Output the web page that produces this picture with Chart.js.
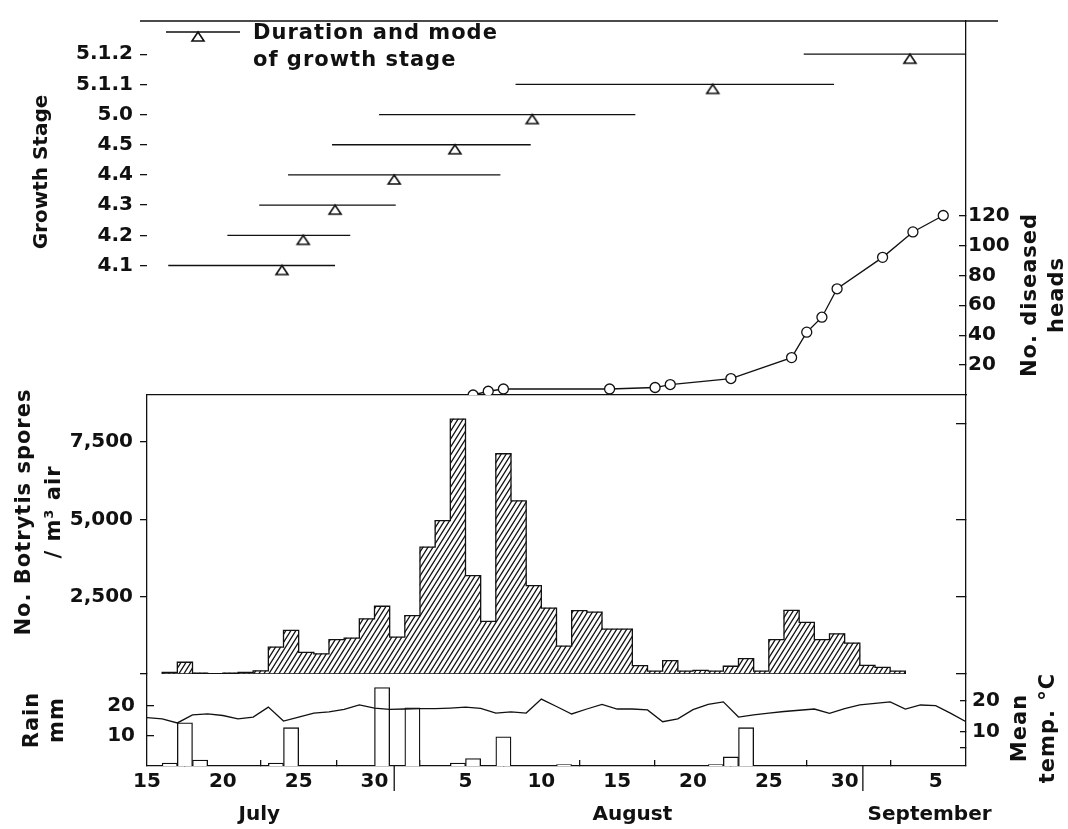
<!DOCTYPE html>
<html>
<head>
<meta charset="utf-8">
<script src="https://cdn.jsdelivr.net/npm/chart.js@4.4.1/dist/chart.umd.min.js"></script>
<style>
  html, body { margin: 0; padding: 0; background: #fff; }
  #wrap { position: relative; width: 1068px; height: 829px; }
  #wrap canvas { position: absolute; left: 0; top: 0; }
</style>
</head>
<body>
<div id="wrap">
  <canvas id="cTop" width="1068" height="829"></canvas>
  <canvas id="cMid" width="1068" height="829"></canvas>
  <canvas id="cBot" width="1068" height="829"></canvas>
</div>
<script>
// day 0 = 15 July, day 17 = 1 August, day 48 = 1 September
const stageLabels = ['4.1', '4.2', '4.3', '4.4', '4.5', '5.0', '5.1.1', '5.1.2'];
const stageStart  = [1.4, 5.3, 7.4, 9.3, 12.2, 15.3, 24.3, 43.3];
const stageEnd    = [12.4, 13.4, 16.4, 23.3, 25.3, 32.2, 45.3, 54];
const stageMode   = [8.9, 10.3, 12.4, 16.3, 20.3, 25.4, 37.3, 50.3];

const headDays   = [21, 22, 23, 30, 33, 34, 38, 42, 43, 44, 45, 48, 50, 52];
const headCounts = [0, 2.5, 4, 4, 5, 7, 11, 25, 42, 52, 71, 92, 109, 120];
const headTicks  = [20, 40, 60, 80, 100, 120];

const sporeDays = [1, 2, 3, 4, 5, 6, 7, 8, 9, 10, 11, 12, 13, 14, 15, 16, 17, 18, 19, 20,
  21, 22, 23, 24, 25, 26, 27, 28, 29, 30, 31, 32, 33, 34, 35, 36, 37, 38, 39, 40,
  41, 42, 43, 44, 45, 46, 47, 48, 49];
const sporeCounts = [50, 380, 30, 10, 30, 50, 100, 870, 1410, 700, 650, 1110, 1160, 1780, 2190, 1190, 1890, 4100, 4960, 8240,
  3180, 1700, 7120, 5600, 2860, 2130, 900, 2050, 2000, 1450, 1450, 270, 90, 430, 90, 120, 90, 250, 500, 90,
  1110, 2060, 1670, 1110, 1300, 1000, 280, 215, 90];
const sporeTicks = [0, 2500, 5000, 7500];
const sporeTickLabels = ['', '2,500', '5,000', '7,500'];
const sporeTicksRight = [0, 2500, 5000, 8100];

const rainDays = [1, 2, 3, 8, 9, 15, 17, 20, 21, 23, 27, 37, 38, 39];
const rainMm   = [1, 14.3, 2, 1, 12.7, 26, 19.3, 1, 2.5, 9.7, 0.5, 0.5, 3, 12.7];
const rainTicks = [10, 20];

const tempDays = [0, 1, 2, 3, 4, 5, 6, 7, 8, 9, 10, 11, 12, 13, 14, 15, 16, 17, 18, 19, 20,
  21, 22, 23, 24, 25, 26, 27, 28, 29, 30, 31, 32, 33, 34, 35, 36, 37, 38, 39, 40,
  41, 42, 43, 44, 45, 46, 47, 48, 49, 50, 51, 52, 53, 54];
const tempC = [14.6, 14.2, 12.9, 15.5, 15.8, 15.3, 14.2, 14.8, 18.0, 13.5, 14.8, 16.1, 16.5, 17.3, 18.7, 17.7, 17.3, 17.4, 17.5, 17.5, 17.7,
  18.0, 17.6, 16.1, 16.5, 16.1, 20.6, 18.2, 15.8, 17.4, 18.9, 17.4, 17.4, 17.1, 13.3, 14.2, 17.2, 18.9, 19.7, 14.8, 15.5,
  16.1, 16.6, 17.0, 17.4, 16.0, 17.5, 18.7, 19.2, 19.7, 17.4, 18.7, 18.5, 16.0, 13.3];
const tempTicks = [5, 10, 20];
const tempTickLabels = ['', '10', '20'];

const dayTicks = [0, 5, 10, 15, 21, 26, 31, 36, 41, 46, 52];
const dayTickLabels = ['15', '20', '25', '30', '5', '10', '15', '20', '25', '30', '5'];
const monthPos = [7.4, 32, 51.6];
const monthNames = ['July', 'August', 'September'];
const monthBreaks = [16.3, 47.2];

const DARK = '#111';
const LEFT_W = 147, RIGHT_W = 102;
const FONT = "'DejaVu Sans', sans-serif";

Chart.defaults.font.family = FONT;
Chart.defaults.font.size = 20;
Chart.defaults.font.weight = 'bold';
Chart.defaults.color = DARK;
Chart.defaults.animation = false;
Chart.defaults.plugins.legend.display = false;
Chart.defaults.plugins.tooltip.enabled = false;

// open triangle, apex at the centre so it hangs under the line
function triMarker() {
    const c = document.createElement('canvas');
    c.width = 16; c.height = 24;
    const g = c.getContext('2d');
    g.beginPath();
    g.moveTo(8, 12); g.lineTo(14, 21); g.lineTo(2, 21); g.closePath();
    g.fillStyle = '#fff'; g.fill();
    g.lineWidth = 1.6; g.strokeStyle = DARK; g.stroke();
    return c;
}
const tri = triMarker();

function hatchPattern() {
    const c = document.createElement('canvas');
    c.width = 5; c.height = 8;
    const g = c.getContext('2d');
    g.fillStyle = '#fff'; g.fillRect(0, 0, 5, 8);
    g.strokeStyle = DARK; g.lineWidth = 1.25;
    g.beginPath();
    g.moveTo(0, 8); g.lineTo(5, 0);
    g.moveTo(-1, 1.6); g.lineTo(1, -1.6);
    g.moveTo(4, 9.6); g.lineTo(6, 6.4);
    g.stroke();
    return g.createPattern(c, 'repeat');
}

// histogram outline: left edge of each day, closed back along the base
const sporeOutline = [{ x: sporeDays[0], y: 0 }]
    .concat(sporeDays.map((d, i) => ({ x: d, y: sporeCounts[i] })))
    .concat([{ x: sporeDays[sporeDays.length - 1] + 1, y: 0 }, { x: sporeDays[0], y: 0 }]);

function yAxis(position, min, max, values, labels, tickLen, pad, showBorder) {
    return {
        position: position, min: min, max: max,
        afterBuildTicks: s => { s.ticks = values.map(v => ({ value: v })); },
        afterFit: s => { s.width = position === 'left' ? LEFT_W : RIGHT_W; },
        grid: { drawOnChartArea: false, color: DARK, lineWidth: 1.3, tickLength: tickLen },
        border: { display: showBorder, color: DARK, width: 1.3 },
        ticks: { padding: pad, autoSkip: false, callback: (v, i) => labels ? labels[i] : '' }
    };
}

function vText(ctx, lines, x, y, gap) {
    ctx.save();
    ctx.translate(x, y);
    ctx.rotate(-Math.PI / 2);
    ctx.textAlign = 'center';
    ctx.textBaseline = 'middle';
    lines.forEach((t, i) => ctx.fillText(t, 0, i * gap));
    ctx.restore();
}

function setText(ctx, size) {
    ctx.fillStyle = DARK;
    ctx.font = 'bold ' + size + 'px ' + FONT;
    ctx.letterSpacing = '1px';
}

// top panel: frame line, legend and titles
const topDecor = {
    id: 'topDecor',
    afterDraw(chart) {
        const ctx = chart.ctx, a = chart.chartArea;
        ctx.save();
        ctx.strokeStyle = DARK; ctx.lineWidth = 1.3;
        ctx.beginPath();
        ctx.moveTo(a.left - 7, a.top); ctx.lineTo(a.right + 32, a.top);
        ctx.moveTo(166, 32); ctx.lineTo(240, 32);
        ctx.stroke();
        ctx.drawImage(tri, 198 - 8, 32 - 12);
        setText(ctx, 21);
        ctx.textAlign = 'left'; ctx.textBaseline = 'middle';
        ctx.fillText('Duration and mode', 253, 34);
        ctx.fillText('of growth stage', 253, 61);
        setText(ctx, 20);
        ctx.letterSpacing = '0px';
        vText(ctx, ['Growth Stage'], 42, 172, 0);
        setText(ctx, 21);
        vText(ctx, ['No. diseased', 'heads'], 1031, 295, 27);
        ctx.restore();
    }
};

const midDecor = {
    id: 'midDecor',
    afterDraw(chart) {
        const ctx = chart.ctx;
        ctx.save();
        setText(ctx, 21);
        vText(ctx, ['No. Botrytis spores', '/ m\u00B3 air'], 25, 512, 30);
        ctx.restore();
    }
};

const botDecor = {
    id: 'botDecor',
    afterDraw(chart) {
        const ctx = chart.ctx, a = chart.chartArea, x = chart.scales.x;
        ctx.save();
        ctx.strokeStyle = DARK; ctx.lineWidth = 1.3;
        ctx.beginPath();
        monthBreaks.forEach(b => {
            const px = x.getPixelForValue(b);
            ctx.moveTo(px, a.bottom); ctx.lineTo(px, a.bottom + 25);
        });
        ctx.stroke();
        setText(ctx, 21);
        vText(ctx, ['Rain', 'mm'], 33, 720, 25);
        vText(ctx, ['Mean', 'temp. \u00B0C'], 1021, 728, 28);
        ctx.restore();
    }
};

// ---- top panel: growth stages and diseased heads
const stageSets = stageLabels.map((s, i) => ({
    data: [{ x: stageStart[i], y: i + 1 }, { x: stageEnd[i], y: i + 1 }],
    yAxisID: 'yStage', borderColor: DARK, borderWidth: 1.3, pointRadius: 0
}));

new Chart(document.getElementById('cTop'), {
    type: 'line',
    data: {
        datasets: stageSets.concat([{
            data: stageMode.map((m, i) => ({ x: m, y: i + 1 })),
            yAxisID: 'yStage', showLine: false, pointStyle: tri, pointRadius: 8
        }, {
            data: headDays.map((d, i) => ({ x: d + 0.5, y: headCounts[i] })),
            yAxisID: 'yHeads', borderColor: DARK, borderWidth: 1.3,
            pointRadius: 5, pointBackgroundColor: '#fff', pointBorderColor: DARK, pointBorderWidth: 1.3
        }])
    },
    options: {
        responsive: false,
        layout: { padding: { top: 11, bottom: 434, left: 0, right: 0 } },
        scales: {
            x: {
                type: 'linear', min: 0, max: 54, offset: false,
                ticks: { display: false },
                grid: { display: false, drawTicks: false },
                border: { display: true, color: DARK, width: 1.3 },
                afterFit: s => { s.height = 0; }
            },
            yStage: yAxis('left', -3.29, 9.1, stageLabels.map((s, i) => i + 1), stageLabels, 7, 7, false),
            yHeads: yAxis('right', 0, 250, headTicks, headTicks.map(String), -7, 9, true)
        }
    },
    plugins: [topDecor]
});

// ---- middle panel: spore counts (hatched bars + stepped outline)
new Chart(document.getElementById('cMid'), {
    type: 'bar',
    data: {
        datasets: [{
            type: 'line',
            data: sporeOutline,
            yAxisID: 'ySpores', stepped: 'before', borderColor: DARK, borderWidth: 1.3,
            pointRadius: 0, order: 0
        }, {
            data: sporeDays.map((d, i) => ({ x: d + 0.5, y: sporeCounts[i] })),
            yAxisID: 'ySpores',
            backgroundColor: hatchPattern(), borderWidth: 0,
            barPercentage: 1, categoryPercentage: 1, order: 1
        }]
    },
    options: {
        responsive: false,
        layout: { padding: { top: 395, bottom: 155, left: 0, right: 0 } },
        scales: {
            x: { type: 'linear', min: 0, max: 54, offset: false, display: false },
            ySpores: yAxis('left', 0, 9020, sporeTicks, sporeTickLabels, 7, 7, true),
            ySporesR: yAxis('right', 0, 9020, sporeTicksRight, null, -10, 4, true)
        }
    },
    plugins: [midDecor]
});

// ---- bottom panel: rain and mean temperature
new Chart(document.getElementById('cBot'), {
    type: 'bar',
    data: {
        datasets: [{
            type: 'line',
            data: tempDays.map((d, i) => ({ x: d, y: tempC[i] })),
            yAxisID: 'yTemp', borderColor: DARK, borderWidth: 1.3, pointRadius: 0, order: 0
        }, {
            data: rainDays.map((d, i) => ({ x: d + 0.5, y: rainMm[i] })),
            yAxisID: 'yRain', backgroundColor: '#fff', borderColor: DARK, borderWidth: 1.3,
            barPercentage: 1, categoryPercentage: 1, order: 1
        }]
    },
    options: {
        responsive: false,
        layout: { padding: { top: 674, bottom: 0, left: 0, right: 0 } },
        scales: {
            x: {
                type: 'linear', position: 'bottom', min: 0, max: 54, offset: false, weight: 0,
                afterBuildTicks: s => { s.ticks = dayTicks.map(v => ({ value: v })); },
                afterFit: s => { s.height = 34; },
                grid: { drawOnChartArea: false, color: DARK, lineWidth: 1.3, tickLength: -6 },
                border: { display: true, color: DARK, width: 1.3 },
                ticks: { padding: 10, autoSkip: false, maxRotation: 0, callback: (v, i) => dayTickLabels[i] }
            },
            xMonth: {
                type: 'linear', position: 'bottom', min: 0, max: 54, offset: false, weight: 1,
                afterBuildTicks: s => { s.ticks = monthPos.map(v => ({ value: v })); },
                afterFit: s => { s.height = 29; },
                grid: { display: false, drawTicks: false },
                border: { display: false },
                ticks: { padding: 3, autoSkip: false, maxRotation: 0, callback: (v, i) => monthNames[i] }
            },
            yRain: yAxis('left', 0, 30.5, rainTicks, rainTicks.map(String), -7, 19, true),
            yTemp: yAxis('right', -1, 28.7, tempTicks, tempTickLabels, -6, 12, true)
        }
    },
    plugins: [botDecor]
});
</script>
</body>
</html>
